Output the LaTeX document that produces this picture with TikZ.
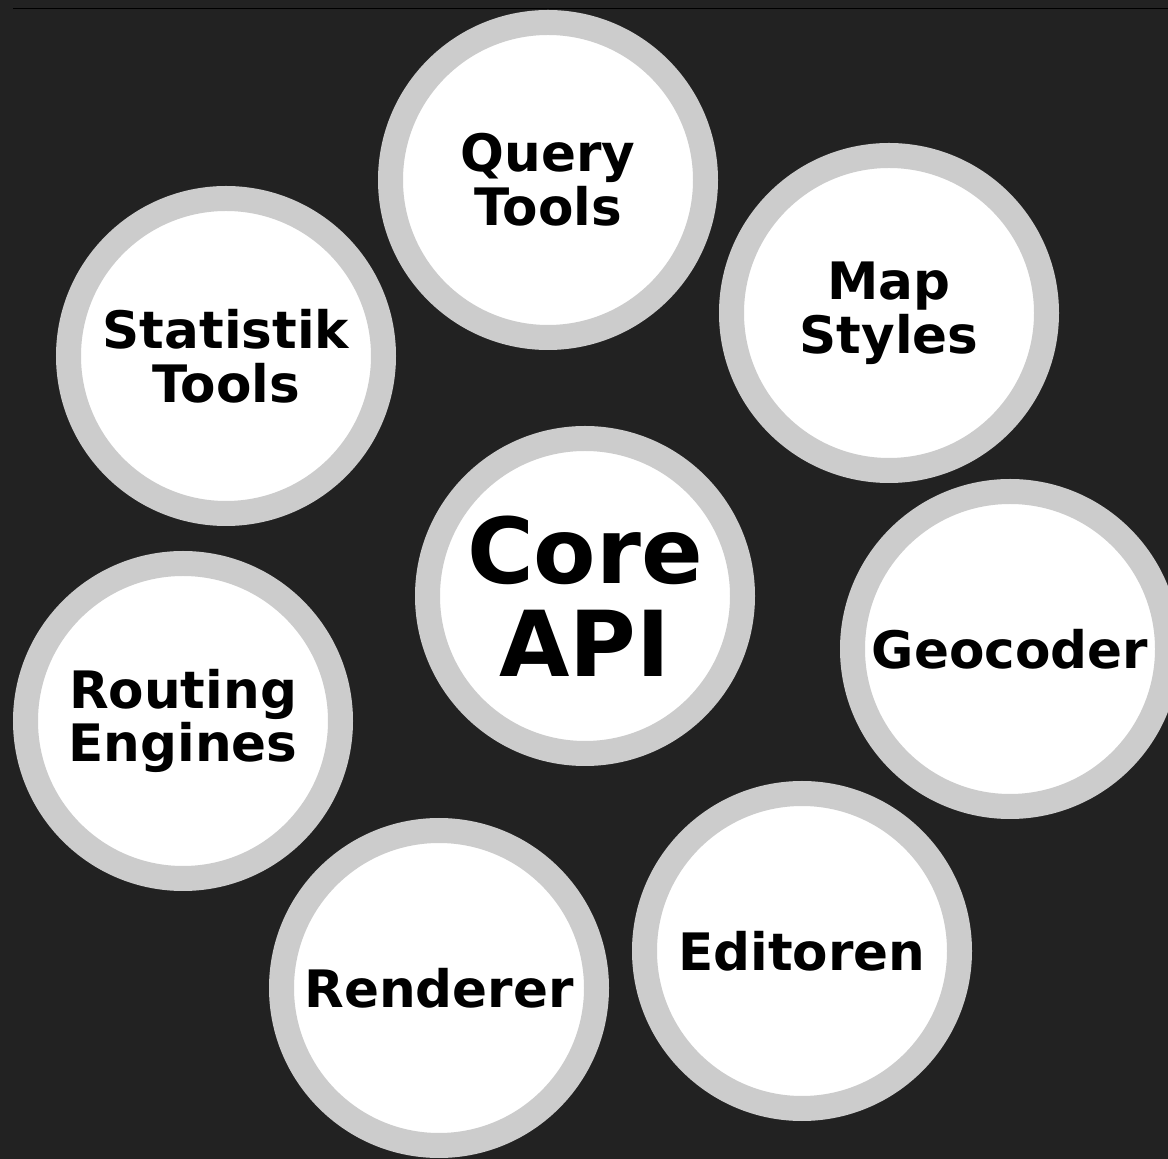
\documentclass[tikz,border=0pt]{standalone}
\usepackage{fontspec}
\setmainfont{DejaVu Sans}
\usepackage{tikz}
\usetikzlibrary{positioning}
\definecolor{hintergrund}{HTML}{222222}
\definecolor{ringgrau}{HTML}{CCCCCC}
\tikzset{modul/.style={circle,draw=ringgrau,fill=white,line width=12.5pt,minimum size=157.5pt,inner sep=0pt,align=center,font=\bfseries\fontsize{25.8}{26.8}\selectfont}}
\tikzset{kern/.style={modul,font=\bfseries\fontsize{45.5}{46.5}\selectfont}}

\begin{document}
\begin{tikzpicture}[x=0.5pt,y=-0.5pt]
\useasboundingbox (0,0) rectangle (1168,1159);
\fill[hintergrund] (0,0) rectangle (1168,1159);
\clip (0,0) rectangle (1168,1159);
\node[kern] (core) at (585,596) {Core\\API};
\foreach \n/\x/\y/\t in {query/548/180/{Query\\Tools},
                         mapstyles/889/313/{Map\\Styles},
                         statistik/226/356/{Statistik\\Tools},
                         geocoder/1010/649/{Geocoder},
                         routing/183/721/{Routing\\Engines},
                         renderer/439/988/{Renderer},
                         editoren/802/951/{Editoren}} {
\node[modul] (\n) at (\x,\y) {\t};
}
\draw[black,line width=0.5pt] (13,9) -- (1168,9);
\end{tikzpicture}
\end{document}
